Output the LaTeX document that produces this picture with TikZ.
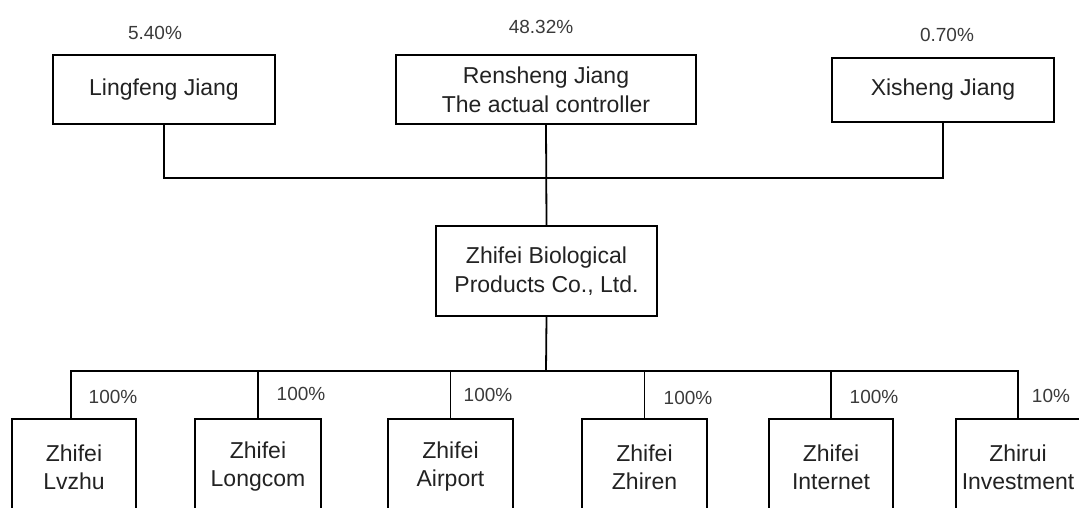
\documentclass[tikz,border=0pt]{standalone}
\usepackage{fontspec}
\setmainfont{Liberation Sans}
\definecolor{txt}{HTML}{222222}
\definecolor{pcol}{HTML}{3A3A3A}
\begin{document}
\begin{tikzpicture}[x=1pt,y=-1pt,
  box/.style={draw=black, line width=1.8pt, inner sep=0pt, align=center, text=txt,
    font=\fontsize{23}{29}\selectfont},
  sub/.style={box, anchor=north, minimum height=96pt, font=\fontsize{23}{28}\selectfont},
  pct/.style={text=pcol, font=\fontsize{19}{20}\selectfont, inner sep=0pt},
  wire/.style={draw=black, line width=1.8pt}]
\useasboundingbox (0,0) rectangle (1079,507);
\clip (0,0) rectangle (1079,507);

% shareholders
\node[box, minimum width=222pt, minimum height=69pt] (ling) at (164,89.5) {Lingfeng Jiang};
\node[box, minimum width=300pt, minimum height=69pt] (ren) at (546,89.5) {Rensheng Jiang\\The actual controller};
\node[box, minimum width=222pt, minimum height=64pt] (xi) at (943,90) {Xisheng Jiang};

\node[pct] (p1) at (155,33) {5.40\%};
\node[pct] (p2) at (541,27) {48.32\%};
\node[pct] (p3) at (947,35) {0.70\%};

% company
\node[box, minimum width=221pt, minimum height=90pt] (zf) at (546.5,271) {Zhifei Biological\\Products Co., Ltd.};

% subsidiaries
\node[sub, minimum width=124pt] (lv) at (74,418) {Zhifei\\Lvzhu};
\node[sub, minimum width=126pt] (lc) at (258,418) {Zhifei\\Longcom};
\node[sub, minimum width=125pt] (ap) at (450.5,418) {Zhifei\\Airport};
\node[sub, minimum width=125pt] (zr) at (644.5,418) {Zhifei\\Zhiren};
\node[sub, minimum width=124pt] (in) at (831,418) {Zhifei\\Internet};
\node[sub, minimum width=124pt] (iv) at (1018,418) {Zhirui\\Investment};

\node[pct] (q1) at (113,397) {100\%};
\node[pct] (q2) at (301,394) {100\%};
\node[pct] (q3) at (488,395) {100\%};
\node[pct] (q4) at (688,398) {100\%};
\node[pct] (q5) at (874,397) {100\%};
\node[pct] (q6) at (1051,396) {10\%};

% connectors
\coordinate (busT) at (546,178);
\coordinate (busB) at (546,371);
\draw[wire] (ling.south) -- (ling.south |- busT) -- (xi.south |- busT) -- (xi.south);
\draw[wire] (ren.south) -- (zf.north);
\draw[wire] (zf.south) -- (busB);
\draw[wire] ([xshift=-3pt]lv.north) -- ([xshift=-3pt]lv.north |- busB) -- (iv.north |- busB) -- (iv.north);
\draw[wire] (lc.north) -- (lc.north |- busB);
\draw[wire] (ap.north) -- (ap.north |- busB);
\draw[wire] (zr.north) -- (zr.north |- busB);
\draw[wire] (in.north) -- (in.north |- busB);
\end{tikzpicture}
\end{document}
